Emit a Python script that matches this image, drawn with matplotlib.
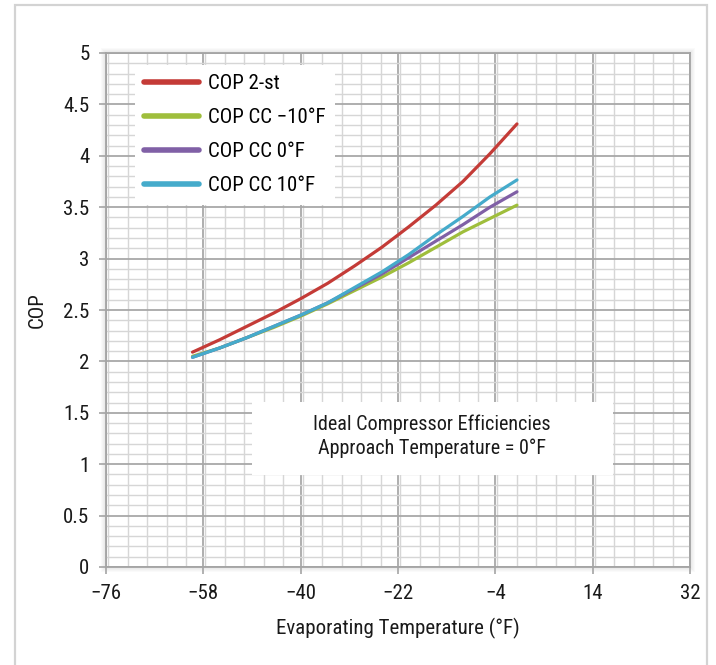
import numpy as np
import matplotlib
matplotlib.use("Agg")
from matplotlib import pyplot as plt
from matplotlib import font_manager
from matplotlib.patches import Rectangle
from matplotlib.ticker import MultipleLocator

# the original uses a condensed sans; take the narrowest one that is installed
installed = set(f.name for f in font_manager.fontManager.ttflist)
cond_names = set(f.name for f in font_manager.fontManager.ttflist
                 if str(f.stretch) in ("condensed", "semi-condensed", "75", "87"))
family = "DejaVu Sans"
stretch = "normal"
for cand in ["Liberation Sans Narrow", "Roboto Condensed", "Open Sans Condensed",
             "Noto Sans Condensed"]:
    if cand in installed:
        family = cand
        break
else:
    if "DejaVu Sans" in cond_names:
        stretch = "condensed"
    elif "Roboto" in installed:
        family = "Roboto"
plt.rcParams['font.family'] = [family, 'DejaVu Sans']
plt.rcParams['font.stretch'] = stretch

# evaporating temperature (F)
temp_f = [-60, -55, -50, -45, -40, -35, -30, -25, -20, -15, -10, -5, 0]

# COP curves
cop_2st = [2.09, 2.21, 2.34, 2.47, 2.61, 2.76, 2.93, 3.11, 3.31, 3.52, 3.75, 4.02, 4.31]
cop_cc_m10 = [2.05, 2.13, 2.23, 2.33, 2.44, 2.56, 2.69, 2.82, 2.96, 3.11, 3.26, 3.39, 3.52]
cop_cc_0 = [2.04, 2.13, 2.23, 2.34, 2.45, 2.57, 2.71, 2.85, 3.01, 3.17, 3.33, 3.50, 3.65]
cop_cc_10 = [2.04, 2.13, 2.23, 2.34, 2.45, 2.57, 2.72, 2.87, 3.04, 3.23, 3.41, 3.60, 3.765]

series = [
    ("COP 2-st", cop_2st, "#C43B37"),
    ("COP CC \u221210\u00b0F", cop_cc_m10, "#9FBE3C"),
    ("COP CC 0\u00b0F", cop_cc_0, "#8060A6"),
    ("COP CC 10\u00b0F", cop_cc_10, "#45ABCB"),
]

xticks = [-76, -58, -40, -22, -4, 14, 32]
xtick_labels = ["\u221276", "\u221258", "\u221240", "\u221222", "\u22124", "14", "32"]
yticks = [0, 0.5, 1, 1.5, 2, 2.5, 3, 3.5, 4, 4.5, 5]
ytick_labels = ["0", "0.5", "1", "1.5", "2", "2.5", "3", "3.5", "4", "4.5", "5"]

W, H = 716, 665
fig = plt.figure(figsize=(W / 100, H / 100), dpi=100)


def px_box(x0, y0, x1, y1):
    # pixel box (top-left origin) -> figure fraction
    return (x0 / W, 1 - y1 / H, (x1 - x0) / W, (y1 - y0) / H)


def soft_shadow(x0, y0, x1, y1, steps=6, alpha=0.035, dx=2, dy=3):
    for i in range(steps, 0, -1):
        l, b, w, h = px_box(x0 - i + dx, y0 - i + dy, x1 + i + dx, y1 + i + dy)
        fig.patches.append(Rectangle((l, b), w, h, transform=fig.transFigure,
                                     facecolor="black", edgecolor="none",
                                     alpha=alpha, zorder=0))


# outer frame
l, b, w, h = px_box(15, 5, 707, 700)
fig.patches.append(Rectangle((l, b), w, h, transform=fig.transFigure,
                             facecolor="white", edgecolor="#d3d3d3", lw=1.6, zorder=-1))

ax_px = (106, 53, 690, 567)
soft_shadow(*ax_px, steps=5, alpha=0.02, dx=0, dy=0)
ax = fig.add_axes(px_box(*ax_px))
ax.set_zorder(1)

ax.set_xlim(-76, 32)
ax.set_ylim(0, 5)
ax.xaxis.set_major_locator(MultipleLocator(18))
ax.xaxis.set_minor_locator(MultipleLocator(3.6))
ax.yaxis.set_major_locator(MultipleLocator(0.5))
ax.yaxis.set_minor_locator(MultipleLocator(0.1))
ax.set_xticks(xticks, xtick_labels)
ax.set_yticks(yticks, ytick_labels)

ax.grid(which="minor", color="#d6d6d6", lw=1.0)
ax.grid(which="major", color="#a8a8a8", lw=1.3)
ax.set_axisbelow(True)
for s in ax.spines.values():
    s.set_color("#a4a4a4")
    s.set_linewidth(1.3)

ax.tick_params(which="major", length=5, width=1.2, color="#a4a4a4",
               labelsize=15, labelcolor="#1a1a1a", pad=7)
ax.tick_params(which="minor", length=0)

for name, vals, col in series:
    ax.plot(temp_f, vals, color=col, lw=2.3, label=name, solid_capstyle="round",
            solid_joinstyle="round", zorder=3)

# annotation box
ax.add_patch(Rectangle((-49, 0.895), 66.8, 0.71, facecolor="white", edgecolor="none", zorder=2))
soft_shadow(252, 402, 613, 475, steps=5, alpha=0.03)
ax.text(-15.7, 1.275, "Ideal Compressor Efficiencies\nApproach Temperature = 0\u00b0F",
        ha="center", va="center", fontsize=14.5, color="#1a1a1a",
        linespacing=1.3, zorder=4)

leg = ax.legend(loc="upper left", bbox_to_anchor=(0.0497, 0.9767), borderaxespad=0,
                frameon=True, fancybox=False, edgecolor="none", framealpha=1,
                fontsize=15, handlelength=2.6, handletextpad=0.45,
                labelspacing=0.72, borderpad=0.45)
leg.set_zorder(5)
for ln in leg.get_lines():
    ln.set_linewidth(4)
soft_shadow(135, 65, 338, 205, steps=6, alpha=0.035, dx=3, dy=3)

ax.set_xlabel("Evaporating Temperature (\u00b0F)", fontsize=15, color="#1a1a1a", labelpad=11)
ax.set_ylabel("COP", fontsize=15, color="#1a1a1a", labelpad=12)

fig.savefig("out.png", dpi=100, facecolor="white")
